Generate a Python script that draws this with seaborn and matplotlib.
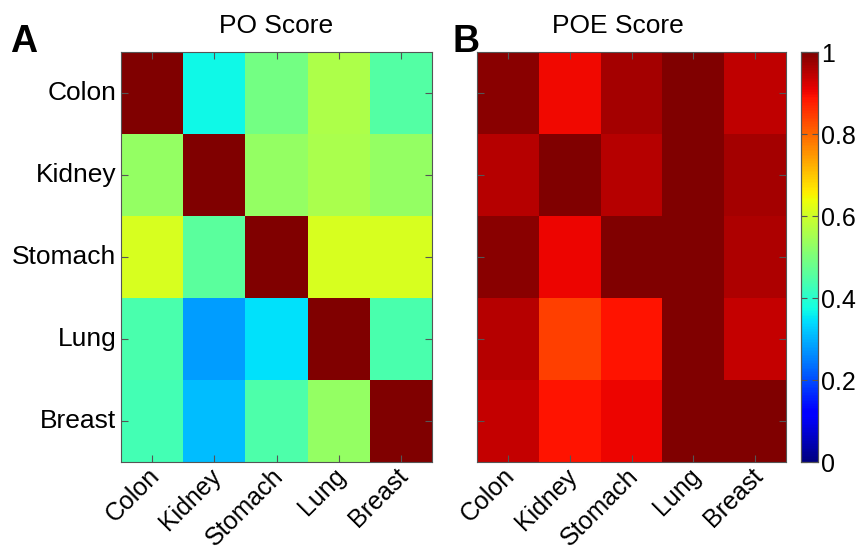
import matplotlib
matplotlib.use("Agg")
import matplotlib.pyplot as plt
import matplotlib.transforms as mtrans
import seaborn as sns
import pandas as pd
import numpy as np

# tissues in row/column order
tissues = ["Colon", "Kidney", "Stomach", "Lung", "Breast"]

# PO score matrix
po_colon = [1.00, 0.37, 0.49, 0.56, 0.45]
po_kidney = [0.53, 1.00, 0.53, 0.555, 0.53]
po_stomach = [0.61, 0.46, 1.00, 0.61, 0.61]
po_lung = [0.44, 0.28, 0.345, 1.00, 0.44]
po_breast = [0.43, 0.31, 0.445, 0.53, 1.00]

# POE score matrix
poe_colon = [0.99, 0.90, 0.965, 1.00, 0.945]
poe_kidney = [0.95, 1.00, 0.95, 1.00, 0.965]
poe_stomach = [0.99, 0.905, 1.00, 1.00, 0.96]
poe_lung = [0.95, 0.84, 0.89, 1.00, 0.94]
poe_breast = [0.94, 0.89, 0.905, 1.00, 1.00]

cbar_ticks = [0, 0.2, 0.4, 0.6, 0.8, 1]
cbar_labels = ["0", "0.2", "0.4", "0.6", "0.8", "1"]

po = pd.DataFrame([po_colon, po_kidney, po_stomach, po_lung, po_breast],
                  index=tissues, columns=tissues)
poe = pd.DataFrame([poe_colon, poe_kidney, poe_stomach, poe_lung, poe_breast],
                   index=tissues, columns=tissues)

sns.set_style("white")
plt.rcParams['font.family'] = ['Liberation Sans', 'DejaVu Sans']
plt.rcParams['text.color'] = 'black'
plt.rcParams['xtick.color'] = 'black'
plt.rcParams['ytick.color'] = 'black'
fs = 19

W, H = 856, 554
fig = plt.figure(figsize=(W / 100, H / 100), dpi=100)

def box(l, t, r, b):
    return [l / W, 1 - b / H, (r - l) / W, (b - t) / H]

axA = fig.add_axes(box(121, 52, 432, 462))
axB = fig.add_axes(box(477, 52, 786, 462))
cax = fig.add_axes(box(801, 52, 818, 462))

sns.heatmap(po, ax=axA, cmap="jet", vmin=0, vmax=1, cbar=False)
sns.heatmap(poe, ax=axB, cmap="jet", vmin=0, vmax=1, cbar_ax=cax)

# nudge the rotated x labels so their ends sit just under the ticks
shift = mtrans.ScaledTranslation(-5 / 100, 3 / 100, fig.dpi_scale_trans)

for ax, title, tx, show_y in [(axA, "PO Score", 0.5, True),
                              (axB, "POE Score", 0.455, False)]:
    ax.set_axisbelow(False)
    ax.set_title(title, fontsize=fs, pad=14, x=tx, color="black")
    ax.set_xlabel("")
    ax.set_ylabel("")
    ax.tick_params(direction="in", length=5, color="#555555", labelcolor="black",
                   top=True, right=True, bottom=True, left=True)
    ax.set_xticklabels(tissues, rotation=45, ha="right", rotation_mode="anchor",
                       fontsize=18)
    for lab in ax.get_xticklabels():
        lab.set_transform(lab.get_transform() + shift)
    if show_y:
        ax.set_yticklabels(tissues, rotation=0, fontsize=fs)
    else:
        ax.set_yticklabels([])
    for s in ax.spines.values():
        s.set_visible(True)
        s.set_color("#555555")
        s.set_linewidth(0.8)

cax.set_axisbelow(False)
cax.set_yticks(cbar_ticks)
cax.set_yticklabels(cbar_labels, fontsize=18)
cax.tick_params(direction="in", length=4, pad=2, color="#555555", labelcolor="black",
                left=True, right=True)
for s in cax.spines.values():
    s.set_visible(True)
    s.set_color("#555555")
    s.set_linewidth(0.8)

fig.text(10 / W, 1 - 42 / H, "A", fontsize=27, fontweight="bold", va="center")
fig.text(453 / W, 1 - 42 / H, "B", fontsize=27, fontweight="bold", va="center")

fig.savefig("out.png", dpi=100)
